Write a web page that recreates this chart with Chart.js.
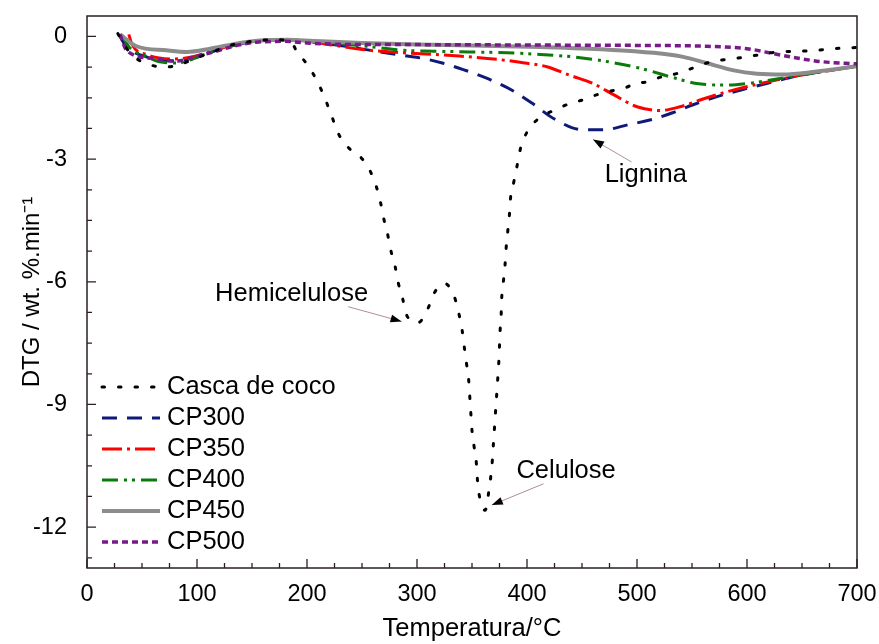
<!DOCTYPE html>
<html>
<head>
<meta charset="utf-8">
<script src="https://cdn.jsdelivr.net/npm/chart.js@4.4.1/dist/chart.umd.min.js"></script>
<style>
  html, body { margin: 0; padding: 0; background: #fff; }
  #wrap { width: 879px; height: 644px; }
</style>
</head>
<body>
<div id="wrap"><canvas id="chart-dtg"></canvas></div>
<script>
// ============ Data ============
const seriesNames = ['Casca de coco', 'CP300', 'CP350', 'CP400', 'CP450', 'CP500'];

const tempCasca = [28, 35, 41, 55, 69, 83, 97, 112, 130, 150, 170, 185, 191, 200, 208, 215, 221, 229, 238, 248,
  257, 263, 267, 270, 273, 276, 280, 283, 287, 291, 301, 310, 316, 325, 334, 338, 341, 343, 345, 347,
  348, 349, 350, 352, 354, 355, 357, 362, 365, 367, 368.5, 369.5, 370.5, 371.5, 372.5, 373.5, 374.5, 375.5, 376.5, 377,
  378.5, 380, 381, 382.5, 384, 385, 388, 391, 394, 400, 410, 427, 438, 451, 463, 477, 490, 498, 509, 522,
  536, 550, 562, 572, 599, 613, 627, 650, 663, 678, 700];
const dtgCasca = [0.07, -0.25, -0.46, -0.67, -0.75, -0.7, -0.55, -0.4, -0.22, -0.12, -0.08, -0.12, -0.38, -0.68, -1.03, -1.43, -1.84, -2.4, -2.73, -2.93,
  -3.27, -3.67, -4.08, -4.48, -4.8, -5.21, -5.61, -6.03, -6.42, -6.84, -7.0, -6.65, -6.26, -6.04, -6.37, -6.77, -7.18, -7.6, -8.0, -8.41,
  -8.82, -9.24, -9.64, -10.05, -10.45, -10.86, -11.28, -11.59, -11.18, -10.78, -10.37, -9.95, -9.55, -9.14, -8.74, -8.33, -7.9, -7.22, -6.81, -6.41,
  -6.0, -5.6, -5.19, -4.77, -4.37, -3.96, -3.56, -3.16, -2.75, -2.34, -2.02, -1.78, -1.65, -1.55, -1.43, -1.33, -1.25, -1.15, -1.11, -0.99,
  -0.91, -0.78, -0.66, -0.6, -0.5, -0.44, -0.38, -0.36, -0.34, -0.3, -0.27];

const tempCP300 = [29, 35, 54, 80, 100, 120, 140, 160, 180, 200, 230, 260, 294, 306, 323, 342, 365, 386, 404, 425,
  450, 470, 492, 515, 533, 551, 578, 600, 624, 645, 670, 700];
const dtgCP300 = [0.05, -0.22, -0.5, -0.6, -0.5, -0.32, -0.18, -0.1, -0.08, -0.12, -0.22, -0.35, -0.49, -0.54, -0.65, -0.81, -1.04, -1.31, -1.62, -2.02,
  -2.28, -2.28, -2.16, -2.02, -1.86, -1.67, -1.43, -1.27, -1.11, -0.97, -0.85, -0.73];

const tempCP350 = [38, 41, 55, 80, 100, 120, 140, 160, 180, 200, 225, 250, 288, 315, 338, 376, 398, 418, 439, 460,
  479, 500, 521, 539, 560, 585, 606, 630, 655, 700];
const dtgCP350 = [0.05, -0.2, -0.45, -0.55, -0.47, -0.3, -0.17, -0.1, -0.08, -0.12, -0.22, -0.32, -0.4, -0.44, -0.48, -0.57, -0.65, -0.74, -0.95, -1.15,
  -1.43, -1.72, -1.81, -1.72, -1.53, -1.33, -1.19, -1.05, -0.92, -0.73];

const tempCP400 = [32, 38, 55, 66, 82, 94, 109, 130, 155, 180, 210, 254, 288, 315, 348, 382, 412, 442, 474, 503,
  536, 554, 582, 601, 630, 654, 700];
const dtgCP400 = [0.02, -0.25, -0.5, -0.62, -0.65, -0.57, -0.42, -0.24, -0.12, -0.08, -0.13, -0.24, -0.34, -0.36, -0.38, -0.4, -0.44, -0.5, -0.62, -0.78,
  -1.03, -1.15, -1.19, -1.15, -1.03, -0.92, -0.73];

const tempCP450 = [30, 45, 72, 91, 112, 133, 157, 182, 206, 250, 300, 350, 412, 472, 515, 542, 563, 588, 609, 633, 660, 700];
const dtgCP450 = [0.05, -0.24, -0.34, -0.38, -0.3, -0.19, -0.1, -0.08, -0.11, -0.16, -0.2, -0.22, -0.26, -0.32, -0.4, -0.5, -0.65, -0.83, -0.91, -0.93, -0.87, -0.73];

const tempCP500 = [30, 36, 60, 82, 97, 115, 133, 154, 180, 200, 250, 300, 400, 503, 563, 600, 624, 648, 669, 700];
const dtgCP500 = [0.05, -0.34, -0.54, -0.6, -0.5, -0.38, -0.24, -0.14, -0.12, -0.16, -0.2, -0.2, -0.21, -0.22, -0.24, -0.3, -0.42, -0.54, -0.62, -0.67];

const xMajorTicks = [0, 100, 200, 300, 400, 500, 600, 700];
const yMajorTicks = [0, -3, -6, -9, -12];

// annotation: label position, arrow start, arrow tip (data units)
const noteLabels = ['Hemicelulose', 'Lignina', 'Celulose'];
const noteTextAt = [[186, -6.31], [508, -3.4], [435.5, -10.63]];
const noteArrowFrom = [[237.5, -6.61], [495, -3.07], [415, -10.94]];
const noteArrowTo = [[286, -6.97], [460, -2.52], [368, -11.46]];

// ============ Styles ============
const FONT = '"Liberation Sans", Arial, sans-serif';
const TICK_SIZE = 23.5;
const TEXT_SIZE = 25.5;
const lineStyles = [
  { color: '#000000', width: 3, dash: [2.5, 14], cap: 'round' },
  { color: '#0d1a7a', width: 3, dash: [15, 10], cap: 'butt' },
  { color: '#ff0000', width: 3, dash: [20, 5, 3, 5], cap: 'butt' },
  { color: '#0a7a0a', width: 3, dash: [16, 6, 3, 5, 3, 6], cap: 'butt' },
  { color: '#8c8c8c', width: 4, dash: [], cap: 'butt' },
  { color: '#7a1a8a', width: 3.5, dash: [6, 4], cap: 'butt' },
];

function toPoints(xs, ys) {
  return xs.map((x, i) => ({ x, y: ys[i] }));
}

const seriesData = [
  toPoints(tempCasca, dtgCasca),
  toPoints(tempCP300, dtgCP300),
  toPoints(tempCP350, dtgCP350),
  toPoints(tempCP400, dtgCP400),
  toPoints(tempCP450, dtgCP450),
  toPoints(tempCP500, dtgCP500),
];

// draw order: casca on top
const datasets = seriesNames.map((name, i) => ({
  label: name,
  data: seriesData[i],
  borderColor: lineStyles[i].color,
  borderWidth: lineStyles[i].width,
  borderDash: lineStyles[i].dash,
  borderCapStyle: lineStyles[i].cap,
  pointRadius: 0,
  fill: false,
  cubicInterpolationMode: 'monotone',
  order: i === 0 ? 0 : 6 - i,
}));

// ============ Plugins ============
const frameAndTicks = {
  id: 'frameAndTicks',
  afterDraw(chart) {
    const { ctx, chartArea: a, scales } = chart;
    ctx.save();
    ctx.strokeStyle = '#2a2020';
    ctx.lineWidth = 1.5;
    ctx.strokeRect(a.left, a.top, a.right - a.left, a.bottom - a.top);

    // inward ticks, minor every quarter step
    ctx.lineWidth = 1.3;
    ctx.beginPath();
    for (let i = 0; i < xMajorTicks.length; i++) {
      for (let q = 0; q < 4; q++) {
        if (i === xMajorTicks.length - 1 && q > 0) break;
        const v = xMajorTicks[i] + q * 25;
        const px = scales.x.getPixelForValue(v);
        const len = q === 0 ? 9 : 5;
        ctx.moveTo(px, a.bottom);
        ctx.lineTo(px, a.bottom - len);
      }
    }
    yMajorTicks.forEach(t => {
      for (let q = 0; q < 4; q++) {
        const v = t - q * 0.75;
        if (v < scales.y.min) break;
        const py = scales.y.getPixelForValue(v);
        const len = q === 0 ? 9 : 5;
        ctx.moveTo(a.left, py);
        ctx.lineTo(a.left + len, py);
      }
    });
    ctx.stroke();
    ctx.restore();
  },
};

const legendAndNotes = {
  id: 'legendAndNotes',
  afterDraw(chart) {
    const { ctx, chartArea: a, scales } = chart;
    ctx.save();
    ctx.font = `${TEXT_SIZE}px ${FONT}`;
    ctx.fillStyle = '#000';
    ctx.textBaseline = 'middle';

    // legend
    seriesNames.forEach((name, i) => {
      const y = a.top + 371 + i * 31;
      const st = lineStyles[i];
      ctx.beginPath();
      ctx.strokeStyle = st.color;
      ctx.lineWidth = st.width;
      ctx.lineCap = st.cap;
      ctx.setLineDash(st.dash);
      ctx.moveTo(a.left + 15, y);
      ctx.lineTo(a.left + 73, y);
      ctx.stroke();
      ctx.setLineDash([]);
      ctx.textAlign = 'left';
      ctx.fillText(name, a.left + 80, y);
    });

    // annotations
    noteLabels.forEach((txt, i) => {
      const tx = scales.x.getPixelForValue(noteTextAt[i][0]);
      const ty = scales.y.getPixelForValue(noteTextAt[i][1]);
      ctx.textAlign = 'center';
      ctx.fillStyle = '#000';
      ctx.fillText(txt, tx, ty);

      const x0 = scales.x.getPixelForValue(noteArrowFrom[i][0]);
      const y0 = scales.y.getPixelForValue(noteArrowFrom[i][1]);
      const x1 = scales.x.getPixelForValue(noteArrowTo[i][0]);
      const y1 = scales.y.getPixelForValue(noteArrowTo[i][1]);
      ctx.beginPath();
      ctx.strokeStyle = '#b08c9c';
      ctx.lineWidth = 1;
      ctx.moveTo(x0, y0);
      ctx.lineTo(x1, y1);
      ctx.stroke();

      const ang = Math.atan2(y1 - y0, x1 - x0);
      const L = 11, W = 4;
      ctx.beginPath();
      ctx.moveTo(x1, y1);
      ctx.lineTo(x1 - L * Math.cos(ang) + W * Math.sin(ang), y1 - L * Math.sin(ang) - W * Math.cos(ang));
      ctx.lineTo(x1 - L * Math.cos(ang) - W * Math.sin(ang), y1 - L * Math.sin(ang) + W * Math.cos(ang));
      ctx.closePath();
      ctx.fillStyle = '#000';
      ctx.fill();
    });
    ctx.restore();
  },
};

// ============ Chart ============
const ctx = document.getElementById('chart-dtg').getContext('2d');
new Chart(ctx, {
  type: 'line',
  data: { datasets },
  options: {
    responsive: true,
    maintainAspectRatio: false,
    animation: false,
    layout: { padding: { top: 16, right: 22, left: 0, bottom: 0 } },
    plugins: {
      legend: { display: false },
      tooltip: { enabled: false },
    },
    scales: {
      x: {
        type: 'linear',
        min: 0,
        max: 700,
        afterBuildTicks: s => { s.ticks = xMajorTicks.map(v => ({ value: v })); },
        afterFit: s => { s.height = 76; s.paddingLeft = 0; s.paddingRight = 0; },
        grid: { display: false },
        border: { display: false },
        ticks: { color: '#000', padding: 4, maxRotation: 0, font: { family: FONT, size: TICK_SIZE } },
        title: {
          display: true,
          text: 'Temperatura/°C',
          color: '#000',
          padding: { top: 0, bottom: 0 },
          font: { family: FONT, size: TEXT_SIZE },
        },
      },
      y: {
        type: 'linear',
        min: -13,
        max: 0.5,
        afterBuildTicks: s => { s.ticks = yMajorTicks.map(v => ({ value: v })); },
        afterFit: s => { s.width = 87; s.paddingTop = 0; s.paddingBottom = 0; },
        grid: { display: false },
        border: { display: false },
        ticks: { color: '#000', padding: 12, font: { family: FONT, size: TICK_SIZE } },
        title: {
          display: true,
          text: 'DTG / wt. %.min⁻¹',
          color: '#000',
          padding: { top: 18, bottom: 0 },
          font: { family: FONT, size: 24 },
        },
      },
    },
  },
  plugins: [frameAndTicks, legendAndNotes],
});
</script>
</body>
</html>
